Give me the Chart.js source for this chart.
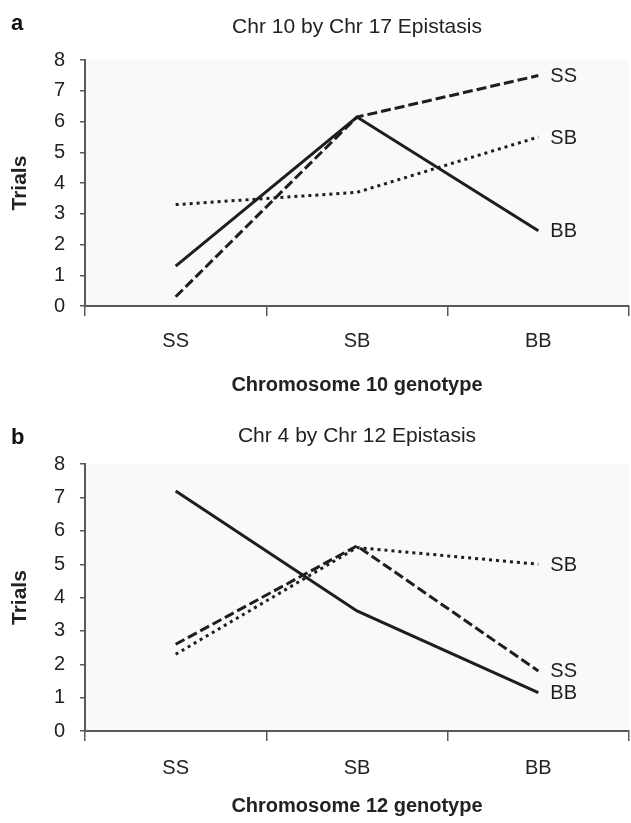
<!DOCTYPE html>
<html><head><meta charset="utf-8">
<script src="https://cdn.jsdelivr.net/npm/chart.js@4/dist/chart.umd.min.js"></script>
<style>
html,body{margin:0;padding:0;background:#fff;}
#wrap{position:relative;width:631px;height:823px;overflow:hidden;}
canvas{position:absolute;left:0;}
</style></head><body>
<div id="wrap">
<canvas id="chartA" width="631" height="400" style="top:0"></canvas>
<canvas id="chartB" width="631" height="423" style="top:400px"></canvas>
</div>
<script>
// ---- data ----
const categories = ['SS', 'SB', 'BB'];
const seriesNames = ['SS', 'SB', 'BB'];
const yMin = 0, yMax = 8, yStep = 1;

// Panel a
const panelA = 'a';
const titleA = 'Chr 10 by Chr 17 Epistasis';
const xTitleA = 'Chromosome 10 genotype';
const yTitle = 'Trials';
const a_SS = [0.3, 6.15, 7.5];
const a_SB = [3.3, 3.7, 5.5];
const a_BB = [1.3, 6.15, 2.45];

// Panel b
const panelB = 'b';
const titleB = 'Chr 4 by Chr 12 Epistasis';
const xTitleB = 'Chromosome 12 genotype';
const b_SS = [2.6, 5.55, 1.8];
const b_SB = [2.3, 5.5, 5.0];
const b_BB = [7.2, 3.6, 1.15];

// ---- styling / plugins ----
const FONT = '"Liberation Sans", Arial, Helvetica, sans-serif';
const INK = '#1e1e1e';
const AXIS = '#5a5a5a';

const plotBg = {
  id: 'plotBg',
  beforeDraw(chart) {
    const {ctx, chartArea: a} = chart;
    ctx.save();
    ctx.fillStyle = '#f9f9f9';
    ctx.fillRect(a.left, a.top, a.right - a.left, a.bottom - a.top);
    ctx.restore();
  }
};

const endLabels = {
  id: 'endLabels',
  afterDatasetsDraw(chart) {
    const ctx = chart.ctx;
    ctx.save();
    ctx.font = '20px ' + FONT;
    ctx.fillStyle = INK;
    ctx.textAlign = 'left';
    ctx.textBaseline = 'middle';
    chart.data.datasets.forEach((ds, i) => {
      const meta = chart.getDatasetMeta(i);
      const pt = meta.data[meta.data.length - 1];
      ctx.fillText(ds.label, pt.x + 12, pt.y + 1);
    });
    ctx.restore();
  }
};

const panelLetter = {
  id: 'panelLetter',
  afterDraw(chart, args, opts) {
    const ctx = chart.ctx;
    ctx.save();
    ctx.font = 'bold 22px ' + FONT;
    ctx.fillStyle = '#111';
    ctx.textAlign = 'left';
    ctx.textBaseline = 'middle';
    ctx.fillText(opts.text, opts.x, opts.y);
    ctx.restore();
  }
};

function makeDatasets(ss, sb, bb) {
  const base = {borderColor: INK, borderWidth: 3, pointRadius: 0, tension: 0, fill: false};
  return [
    Object.assign({}, base, {label: seriesNames[1], data: sb, borderDash: [3, 4]}),
    Object.assign({}, base, {label: seriesNames[0], data: ss, borderDash: [10, 4]}),
    Object.assign({}, base, {label: seriesNames[2], data: bb})
  ];
}

function makeChart(id, cfg) {
  return new Chart(document.getElementById(id), {
    type: 'line',
    data: {labels: categories, datasets: makeDatasets(cfg.ss, cfg.sb, cfg.bb)},
    options: {
      responsive: false,
      animation: false,
      layout: {padding: {left: 0, right: 2, top: 0, bottom: 0}},
      plugins: {
        legend: {display: false},
        tooltip: {enabled: false},
        title: {
          display: true, text: cfg.title, fullSize: false,
          color: '#222', font: {family: FONT, size: 21, weight: 'normal'},
          padding: {top: cfg.titlePadTop, bottom: cfg.titlePadBottom}
        },
        panelLetter: {text: cfg.letter, x: 11, y: cfg.letterY}
      },
      scales: {
        x: {
          type: 'category',
          offset: true,
          grid: {offset: true, drawOnChartArea: false, drawTicks: true, tickLength: 10, color: AXIS, lineWidth: 1.5},
          border: {display: true, color: AXIS, width: 2},
          ticks: {color: '#222', font: {family: FONT, size: 20}, padding: cfg.xTickPad, maxRotation: 0},
          title: {display: true, text: cfg.xTitle, color: '#222', font: {family: FONT, size: 20, weight: 'bold'}, padding: {top: 0, bottom: cfg.xTitlePadBottom}},
          afterFit(scale) { scale.height = cfg.xAxisHeight; }
        },
        y: {
          min: yMin, max: yMax,
          grid: {drawOnChartArea: false, drawTicks: true, tickLength: 5, color: AXIS, lineWidth: 1.5},
          border: {display: true, color: AXIS, width: 2},
          ticks: {stepSize: yStep, color: '#222', font: {family: FONT, size: 20}, padding: 15},
          title: {display: true, text: yTitle, color: '#222', font: {family: FONT, size: 21, weight: 'bold'}, padding: {top: 8, bottom: 0}},
          afterFit(scale) { scale.width = 85; }
        }
      }
    },
    plugins: [plotBg, endLabels, panelLetter]
  });
}

makeChart('chartA', {
  ss: a_SS, sb: a_SB, bb: a_BB, title: titleA, xTitle: xTitleA, letter: panelA,
  titlePadTop: 15, titlePadBottom: 20, letterY: 24,
  xAxisHeight: 94, xTickPad: 13, xTitlePadBottom: 3
});
makeChart('chartB', {
  ss: b_SS, sb: b_SB, bb: b_BB, title: titleB, xTitle: xTitleB, letter: panelB,
  titlePadTop: 24, titlePadBottom: 15, letterY: 38,
  xAxisHeight: 92, xTickPad: 15, xTitlePadBottom: 5
});
</script>
</body></html>
